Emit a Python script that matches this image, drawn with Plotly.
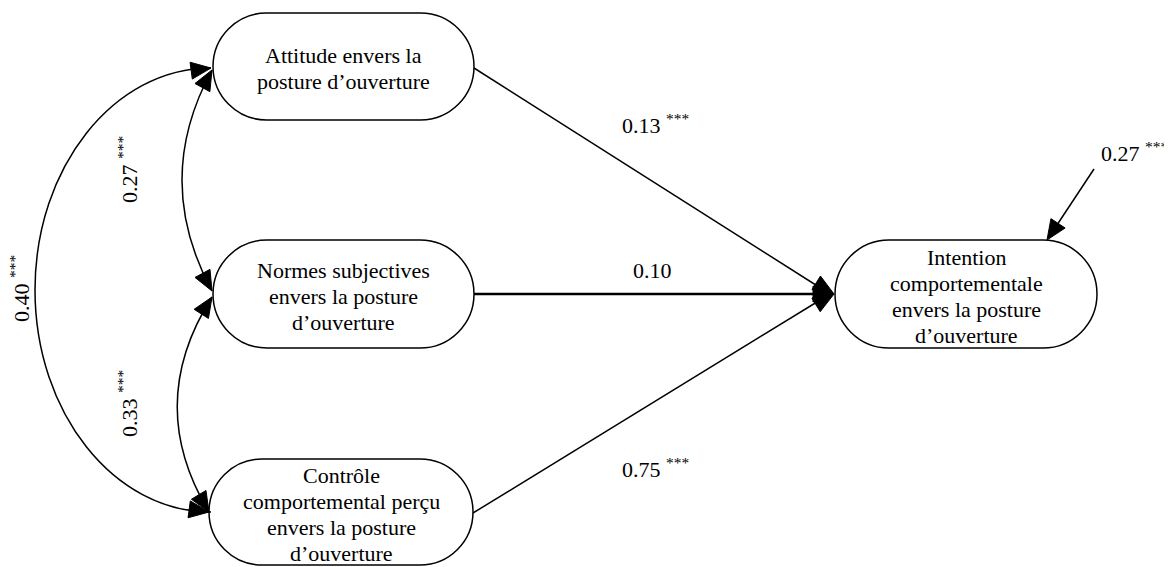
import numpy as np
import plotly.graph_objects as go

# --- diagram content -------------------------------------------------------
NODE_LABELS = [
    ["Attitude envers la", "posture d’ouverture"],
    ["Normes subjectives", "envers la posture", "d’ouverture"],
    ["Contrôle", "comportemental perçu", "envers la posture", "d’ouverture"],
    ["Intention", "comportementale", "envers la posture", "d’ouverture"],
]

PATH_FROM = [0, 1, 2]          # all paths go to node 3
PATH_COEF = [0.13, 0.10, 0.75]
PATH_SIG = ["***", "", "***"]

COV_PAIRS = [(0, 1), (1, 2), (0, 2)]
COV_COEF = [0.27, 0.33, 0.40]
COV_SIG = ["***", "***", "***"]

RESID_COEF = 0.27
RESID_SIG = "***"

# --- layout (pixel space, y down) ------------------------------------------
NODE_CX = [343.5, 343.5, 341, 966]
NODE_CY = [66.5, 294, 512, 294]
NODE_W = [261, 261, 264, 262]
NODE_H = [107, 108, 106, 108]

FONT = "Liberation Serif"
FS = 22
LINE = "#000000"
K = 0.5523
PAGE_OFF = 8   # page body margin


def label(v, sig):
    txt = f"{v:.2f}"
    return txt + (f" <sup>{sig}</sup>" if sig else "")


def stadium(cx, cy, w, h):
    r = h / 2
    x1, x2 = cx - w / 2 + r, cx + w / 2 - r
    t, b = cy - r, cy + r
    return (f"M {x1},{t} L {x2},{t} "
            f"C {x2 + K*r},{t} {x2 + r},{cy - K*r} {x2 + r},{cy} "
            f"C {x2 + r},{cy + K*r} {x2 + K*r},{b} {x2},{b} "
            f"L {x1},{b} "
            f"C {x1 - K*r},{b} {x1 - r},{cy + K*r} {x1 - r},{cy} "
            f"C {x1 - r},{cy - K*r} {x1 - K*r},{t} {x1},{t} Z")


def head(tip, frm, length=20, half=8.5):
    tip = np.asarray(tip, float)
    d = tip - np.asarray(frm, float)
    d /= np.hypot(*d)
    n = np.array([-d[1], d[0]])
    base = tip - length * d
    p1, p2 = base + half * n, base - half * n
    return dict(type="path", xref="x", yref="y",
                path=f"M {tip[0]},{tip[1]} L {p1[0]},{p1[1]} L {p2[0]},{p2[1]} Z",
                fillcolor=LINE, line=dict(color=LINE, width=1))


shapes = []
annotations = []

# nodes
for i, lines in enumerate(NODE_LABELS):
    shapes.append(dict(type="path", xref="x", yref="y",
                       path=stadium(NODE_CX[i], NODE_CY[i], NODE_W[i], NODE_H[i]),
                       line=dict(color=LINE, width=1.5), fillcolor="white"))
    n = len(lines)
    for j, ln in enumerate(lines):
        annotations.append(dict(x=NODE_CX[i], y=NODE_CY[i] + (j - (n - 1) / 2) * 26 + 2,
                                text=ln, showarrow=False, xref="x", yref="y",
                                font=dict(family=FONT, size=FS, color="black")))

# directed paths to Intention
target = (NODE_CX[3] - NODE_W[3] / 2 - 1, NODE_CY[3])
path_start_y = [68, 294, 513]
path_label_xy = [(655, 124), (652, 270), (655, 468)]
path_width = [1.5, 2.6, 1.5]
for k, src in enumerate(PATH_FROM):
    sx = NODE_CX[src] + NODE_W[src] / 2
    sy = path_start_y[k]
    shapes.append(dict(type="line", xref="x", yref="y", x0=sx, y0=sy,
                       x1=target[0] - 4, y1=target[1],
                       line=dict(color=LINE, width=path_width[k])))
    shapes.append(head(target, (sx, sy), length=21, half=8))
    lx, ly = path_label_xy[k]
    annotations.append(dict(x=lx, y=ly, text=label(PATH_COEF[k], PATH_SIG[k]),
                            showarrow=False, xref="x", yref="y",
                            font=dict(family=FONT, size=FS, color="black")))

# covariances (double-headed curves)
tips = {(0, 1): ((212, 70), (212, 291)),
        (1, 2): ((212, 297), (209, 512))}
ctrl = {(0, 1): (152, 180), (1, 2): (144, 404)}
cov_label_xy = [(128, 170), (128, 404), (20, 289)]
for k, pair in enumerate(COV_PAIRS):
    if pair in tips:
        (ax, ay), (bx, by) = tips[pair]
        cx, cy = ctrl[pair]
        shapes.append(dict(type="path", xref="x", yref="y",
                           path=f"M {ax},{ay} Q {cx},{cy} {bx},{by}",
                           line=dict(color=LINE, width=1.5)))
        shapes.append(head((ax, ay), (cx, cy)))
        shapes.append(head((bx, by), (cx, cy)))
    else:
        ex, ey, rx, ry = 211, 290, 176, 222
        shapes.append(dict(type="path", xref="x", yref="y",
                           path=(f"M {ex},{ey - ry} "
                                 f"C {ex - K*rx},{ey - ry} {ex - rx},{ey - K*ry} {ex - rx},{ey} "
                                 f"C {ex - rx},{ey + K*ry} {ex - K*rx},{ey + ry} {ex},{ey + ry}"),
                           line=dict(color=LINE, width=1.5)))
        shapes.append(head((ex, ey - ry), (ex - 30, ey - ry + 4)))
        shapes.append(head((ex - 2, ey + ry), (ex - 32, ey + ry - 4)))
    lx, ly = cov_label_xy[k]
    annotations.append(dict(x=lx, y=ly, text=label(COV_COEF[k], COV_SIG[k]),
                            showarrow=False, xref="x", yref="y", textangle=-90,
                            font=dict(family=FONT, size=FS, color="black")))

# residual arrow
r0, r1 = (1094, 169), (1047, 240)
shapes.append(dict(type="line", xref="x", yref="y", x0=r0[0], y0=r0[1],
                   x1=r1[0] + 4, y1=r1[1] - 6, line=dict(color=LINE, width=1.5)))
shapes.append(head(r1, r0))
annotations.append(dict(x=1134, y=152, text=label(RESID_COEF, RESID_SIG),
                        showarrow=False, xref="x", yref="y",
                        font=dict(family=FONT, size=FS, color="black")))

fig = go.Figure()
fig.update_layout(
    width=1172, height=567,
    margin=dict(l=0, r=0, t=0, b=0),
    paper_bgcolor="white", plot_bgcolor="white",
    xaxis=dict(range=[PAGE_OFF, 1172 + PAGE_OFF], visible=False, fixedrange=True),
    yaxis=dict(range=[567 + PAGE_OFF, PAGE_OFF], visible=False, fixedrange=True),
    shapes=shapes, annotations=annotations,
    showlegend=False,
)
fig.write_html("out.html")
